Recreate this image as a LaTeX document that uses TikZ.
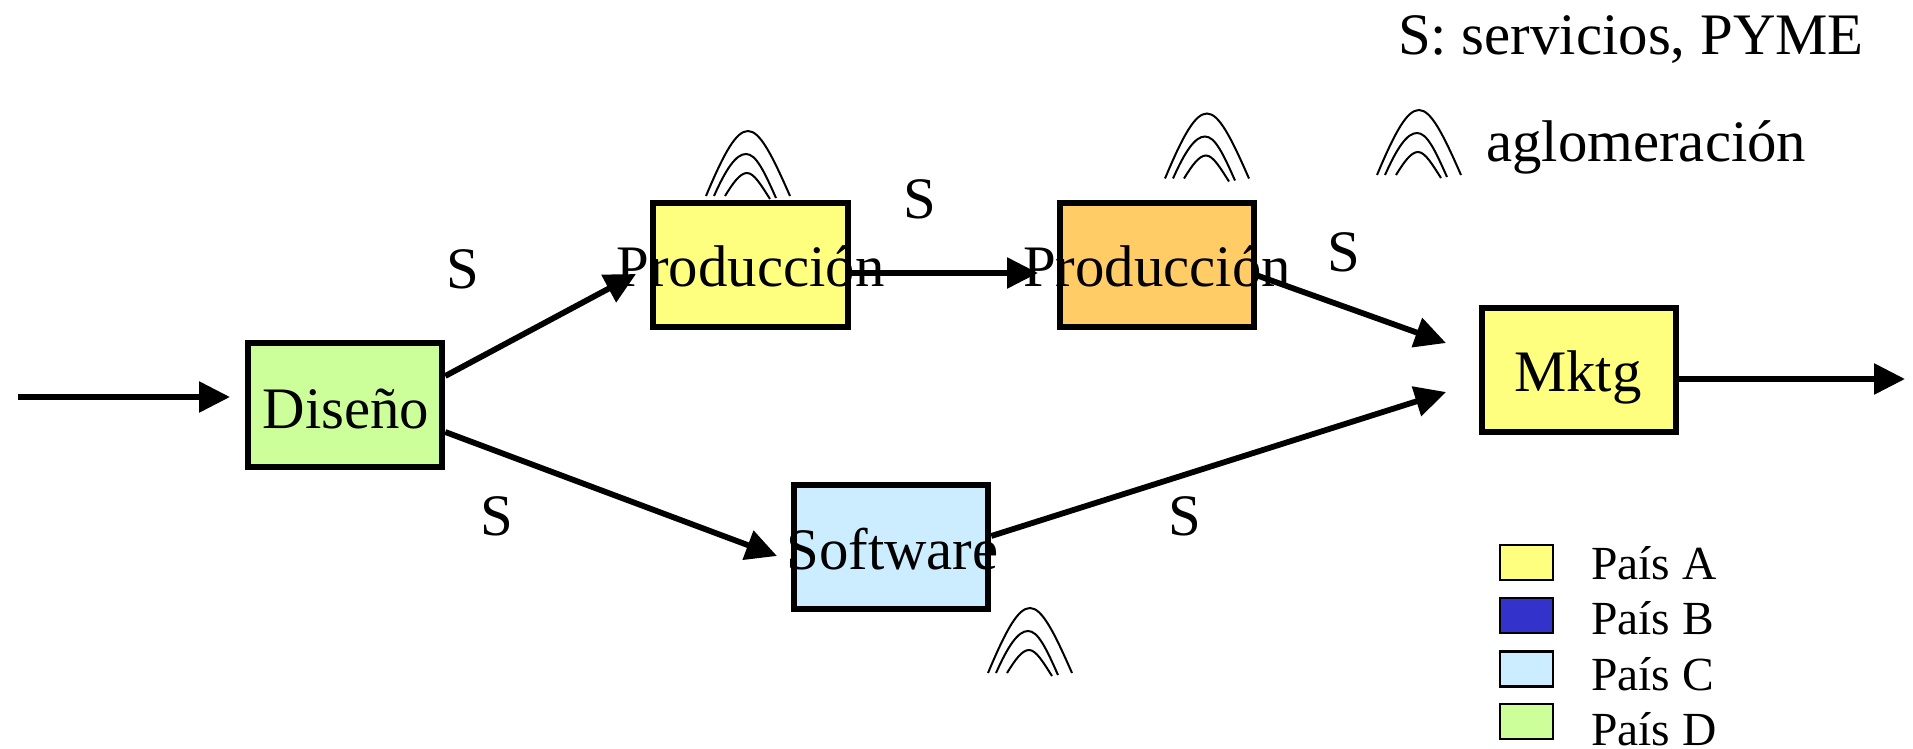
\documentclass[tikz,border=0pt]{standalone}
\usepackage{fontspec}
\setmainfont{Liberation Serif}
\usetikzlibrary{arrows.meta}
\definecolor{cyellow}{HTML}{FFFF7F}
\definecolor{corange}{HTML}{FFCC66}
\definecolor{cgreen}{HTML}{CCFF99}
\definecolor{clblue}{HTML}{CCECFF}
\definecolor{cdblue}{HTML}{3333CC}
\newcommand{\bigfont}{\fontsize{58.8}{59}\selectfont}
\newcommand{\smallfont}{\fontsize{47.5}{47.5}\selectfont}
\tikzset{
  procbox/.style={draw=black,line width=6pt,minimum width=194.5pt,minimum height=124pt,
    inner sep=0pt,text height=44pt,text depth=0pt,font=\bigfont,anchor=center},
  conn/.style={line width=5.8pt,-{Triangle[length=31pt,width=30pt]}},
  slabel/.style={font=\bigfont,anchor=base,inner sep=0pt},
  bigtext/.style={font=\bigfont,anchor=base west,inner sep=0pt},
  legbox/.style={draw=black,line width=2.5pt,minimum width=53pt,minimum height=35pt,inner sep=0pt,anchor=center},
  legtext/.style={font=\smallfont,anchor=base west,inner sep=0pt},
  archmark/.pic={
    \begin{scope}[line width=2pt]
    \draw (-42,65) .. controls (-24,22) and (-12,0) .. (0,0) .. controls (12,0) and (24,24) .. (42,65);
    \draw (-34,65) .. controls (-22,38) and (-12,23) .. (-2,23) .. controls (8,23) and (16,40) .. (28,67);
    \draw (-23,65) .. controls (-15,52) and (-8,42) .. (-1,42) .. controls (6,42) and (13,54) .. (22,68);
    \end{scope}
  }
}
\begin{document}
\begin{tikzpicture}[x=1pt,y=-1pt]
\useasboundingbox (0,0) rectangle (1913,749);
% boxes
\node[procbox,fill=cgreen,text height=47pt] (dis) at (345,405) {\makebox[0pt][c]{\hspace{2pt}Diseño}};
\node[procbox,fill=cyellow] (pa) at (750.5,264.5) {\makebox[0pt][c]{Producción}};
\node[procbox,fill=corange] (pb) at (1157,264.5) {\makebox[0pt][c]{Producción}};
\node[procbox,fill=clblue] (sw) at (891,547) {\makebox[0pt][c]{\hspace{3pt}Software}};
\node[procbox,fill=cyellow] (mk) at (1579,369.5) {\makebox[0pt][c]{\hspace{-2pt}Mktg}};
% free ends
\coordinate (inA) at (18,397);
\coordinate (inB) at (230,397);
\coordinate (outB) at (1905,379);
\coordinate (t1) at (636,274);
\coordinate (t2) at (777,556);
\coordinate (t3) at (1038,273);
\coordinate (t4) at (1446,343);
\coordinate (t5) at (1446,392);
% connectors
\draw[conn] (inA) -- (inB);
\draw[conn] ([yshift=29pt]dis.east) -- (t1);
\draw[conn] ([yshift=-27pt]dis.east) -- (t2);
\draw[conn] ([yshift=-8.5pt]pa.east) -- (t3);
\draw[conn] ([yshift=-11pt]pb.east) -- (t4);
\draw[conn] ([yshift=11pt]sw.east) -- (t5);
\draw[conn] ([yshift=-9.5pt]mk.east) -- (outB);
% S labels
\node[slabel] (s1) at (463,288) {S};
\node[slabel] (s2) at (920,218) {S};
\node[slabel] (s3) at (1344,271) {S};
\node[slabel] (s4) at (497,535) {S};
\node[slabel] (s5) at (1185,535) {S};
% arches
\pic at (748,131) {archmark};
\pic at (1207,113.5) {archmark};
\pic at (1030,608) {archmark};
\pic at (1419,110) {archmark};
% top text
\node[bigtext] (legS) at (1398,55) {S: servicios, PYME};
\node[bigtext] (legAg) at (1486,161) {aglomeración};
% legend
\node[legbox,fill=cyellow] (la) at (1526.5,562.5) {};
\node[legbox,fill=cdblue] (lb) at (1526.5,615.5) {};
\node[legbox,fill=clblue] (lc) at (1526.5,669) {};
\node[legbox,fill=cgreen] (ld) at (1526.5,721.5) {};
\node[legtext] (ta) at (1591,579) {País A};
\node[legtext] (tb) at (1591,634) {País B};
\node[legtext] (tc) at (1591,690) {País C};
\node[legtext] (td) at (1591,745) {País D};
\end{tikzpicture}
\end{document}
